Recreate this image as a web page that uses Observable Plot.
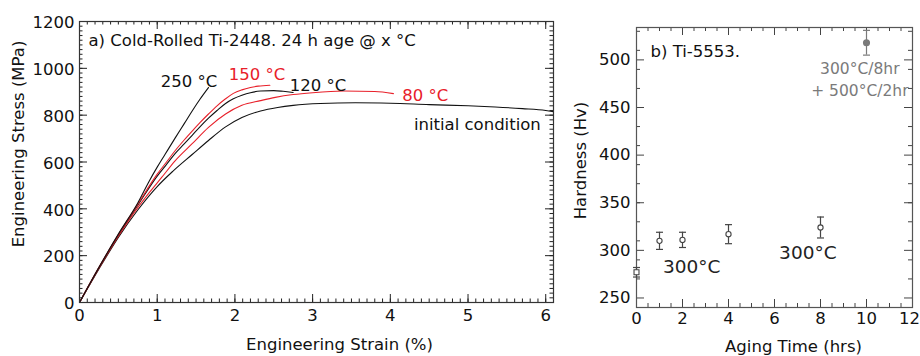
<!DOCTYPE html>
<html><head><meta charset="utf-8">
<script src="https://cdn.jsdelivr.net/npm/d3@7"></script>
<script src="https://cdn.jsdelivr.net/npm/@observablehq/plot@0.6"></script>
<style>
body{margin:0;background:#fff;}
#wrap{position:relative;width:920px;height:356px;overflow:hidden;}
#a,#b{position:absolute;top:0;}
#a{left:0}
#b{left:560px}
</style></head><body><div id="wrap"><div id="a"></div><div id="b"></div></div>
<script>
// ---------- Panel a: tensile curves ----------
const strainInitial = [0,0.25,0.5,0.75,1.0,1.2,1.45,1.66,1.88,2.09,2.33,2.55,2.75,3.1,3.55,4.0,4.5,5.0,5.35,5.7,6.0,6.1];
const stressInitial = [0,143,278,395,495,560,632,692,750,790,818,833,842,850,853,851,845,840,835,828,820,815];
const strain80 = [0,0.25,0.5,0.75,0.9,1.06,1.23,1.45,1.66,1.88,2.09,2.33,2.52,2.75,3.0,3.4,3.8,4.04];
const stress80 = [0,146,283,405,470,535,605,678,748,805,842,862,876,888,896,903,901,892];
const strain120 = [0,0.25,0.5,0.75,1.0,1.12,1.23,1.35,1.45,1.55,1.66,1.77,1.88,1.98,2.09,2.2,2.33,2.5,2.62,2.75];
const stress120 = [0,148,288,415,540,590,636,678,714,750,787,820,850,870,885,896,903,905,902,897];
const strain150 = [0,0.25,0.5,0.75,1.0,1.12,1.23,1.35,1.45,1.55,1.66,1.77,1.88,1.98,2.09,2.2,2.3,2.45];
const stress150 = [0,150,290,420,548,600,648,695,732,768,805,840,870,893,908,918,924,928];
const strain250 = [0,0.25,0.5,0.75,0.9,1.0,1.1,1.23,1.35,1.45,1.55,1.66];
const stress250 = [0,150,292,425,520,578,632,702,765,818,868,918];

const curveNames  = ["initial", "80", "120", "150", "250"];
const curveColors = ["#111", "#e8202a", "#111", "#e8202a", "#111"];
const curveStrains = [strainInitial, strain80, strain120, strain150, strain250];
const curveStresses = [stressInitial, stress80, stress120, stress150, stress250];

const labelTextA   = ["250 °C", "150 °C", "120 °C", "80 °C", "initial condition"];
const labelStrainA = [1.41, 2.285, 3.07, 4.45, 5.12];
const labelStressA = [941, 971, 924, 881, 759];
const labelColorA  = ["#111", "#e8202a", "#111", "#e8202a", "#111"];
const titleA = "a) Cold-Rolled Ti-2448. 24 h age @ x °C";

const xMajorA = [0,1,2,3,4,5,6];
const yMajorA = [0,200,400,600,800,1000,1200];
const xMinorA = d3.range(0, 61).map(i => i / 10);
const yMinorA = d3.range(0, 61).map(i => i * 20);

// ---------- Panel b: hardness ----------
const timeInitial = [0];   const hvInitial = [277]; const errInitial = [5];
const time300 = [1, 2, 4, 8]; const hv300 = [310, 311, 317, 324]; const err300 = [9, 8, 10, 11];
const timeDouble = [10];   const hvDouble = [518];  const errDouble = [13];

const labelTextB  = ["300°C", "300°C"];
const labelTimeB  = [2.4, 7.45];
const labelHvB    = [282, 297.5];
const noteTextB   = ["300°C/8hr", "+ 500°C/2hr"];
const noteTimeB   = [9.71, 9.71];
const noteHvB     = [490, 467.5];
const titleB = "b) Ti-5553.";

const xMajorB = [0,2,4,6,8,10];
const xLastB = [12];
const yMajorB = [250,300,350,400,450,500];
const xMinorB = d3.range(0, 25).map(i => i / 2);
const yMinorB = d3.range(0, 15).map(i => 270 + i * 20).filter(v => v < 534);

const FONT = "'DejaVu Sans', sans-serif";
const FS = 16.5;

const curveData = curveNames.flatMap((n, k) =>
  curveStrains[k].map((s, i) => ({name: n, strain: s, stress: curveStresses[k][i]})));
const labelsA = labelTextA.map((t, i) => ({t, x: labelStrainA[i], y: labelStressA[i], c: labelColorA[i]}));

// inward ticks on all four sides of the frame
function boxTicks(xs, ys, len, innerW, innerH, col) {
  const o = {stroke: col, strokeWidth: 1};
  return [
    Plot.ruleX(xs, {...o, x: d => d, insetTop: innerH - len}),
    Plot.ruleX(xs, {...o, x: d => d, insetBottom: innerH - len}),
    Plot.ruleY(ys, {...o, y: d => d, insetRight: innerW - len}),
    Plot.ruleY(ys, {...o, y: d => d, insetLeft: innerW - len})
  ];
}
const fmt = d => String(d);

const WA = 560, HA = 356, mlA = 79, mrA = 7, mtA = 21, mbA = 54;
const plotA = Plot.plot({
  width: WA, height: HA,
  marginLeft: mlA, marginRight: mrA, marginTop: mtA, marginBottom: mbA,
  style: {fontFamily: FONT, fontSize: FS + "px", color: "#111", background: "white", overflow: "visible"},
  x: {domain: [0, 6.1], label: null},
  y: {domain: [0, 1200], label: null},
  color: {domain: curveNames, range: curveColors},
  marks: [
    Plot.line(curveData, {x: "strain", y: "stress", z: "name", stroke: "name", strokeWidth: 1.1, curve: "monotone-x"}),
    ...boxTicks(xMinorA, yMinorA, 3.5, WA - mlA - mrA, HA - mtA - mbA, "#222"),
    ...boxTicks(xMajorA, yMajorA, 8, WA - mlA - mrA, HA - mtA - mbA, "#222"),
    Plot.frame({stroke: "#333", strokeWidth: 1.2}),
    Plot.axisX({anchor: "bottom", ticks: xMajorA, tickFormat: fmt, tickSize: 0, tickPadding: 7, label: null, fontSize: FS}),
    Plot.axisY({anchor: "left", ticks: yMajorA, tickFormat: fmt, tickSize: 0, tickPadding: 5, dy: 1.5, label: null, fontSize: FS}),
    Plot.text(labelsA, {x: "x", y: "y", text: "t", fill: "c", fontSize: FS, textAnchor: "middle"}),
    Plot.text([titleA], {frameAnchor: "top-left", dx: 9, dy: 19, text: d => d, fontSize: FS, textAnchor: "start", lineAnchor: "middle", fill: "#111"}),
    Plot.text(["Engineering Stress (MPa)"], {frameAnchor: "left", dx: -61, dy: -18, rotate: -90, text: d => d, fontSize: FS, textAnchor: "middle", lineAnchor: "middle", fill: "#111"}),
    Plot.text(["Engineering Strain (%)"], {frameAnchor: "bottom", dx: 23, dy: 42, text: d => d, fontSize: FS, textAnchor: "middle", lineAnchor: "middle", fill: "#111"})
  ]
});
document.getElementById("a").appendChild(plotA);

// ---------- build panel b ----------
const pt = (ts, hs, es) => ts.map((t, i) => ({t, hv: hs[i], lo: hs[i] - es[i], hi: hs[i] + es[i]}));
const dInit = pt(timeInitial, hvInitial, errInitial);
const d300 = pt(time300, hv300, err300);
const dDouble = pt(timeDouble, hvDouble, errDouble);
const cap = {draw(ctx) { ctx.moveTo(-3.5, 0); ctx.lineTo(3.5, 0); }};
const gDark = "#444", gLight = "#7a7a7a";

function errMarks(data, col) {
  return [
    Plot.ruleX(data, {x: "t", y1: "lo", y2: "hi", stroke: col, strokeWidth: 1.2}),
    Plot.dot(data, {x: "t", y: "lo", symbol: cap, r: 3, stroke: col, fill: "none", strokeWidth: 1.2}),
    Plot.dot(data, {x: "t", y: "hi", symbol: cap, r: 3, stroke: col, fill: "none", strokeWidth: 1.2})
  ];
}

const WB = 360, HB = 356, mlB = 76, mrB = 8, mtB = 27, mbB = 49;
const plotB = Plot.plot({
  width: WB, height: HB,
  marginLeft: mlB, marginRight: mrB, marginTop: mtB, marginBottom: mbB,
  style: {fontFamily: FONT, fontSize: FS + "px", color: "#111", background: "white", overflow: "visible"},
  x: {domain: [0, 12], label: null},
  y: {domain: [240, 534], label: null},
  marks: [
    ...boxTicks(xMinorB, yMinorB, 4, WB - mlB - mrB, HB - mtB - mbB, "#444"),
    ...boxTicks([...xMajorB, ...xLastB], yMajorB, 8, WB - mlB - mrB, HB - mtB - mbB, "#444"),
    Plot.frame({stroke: "#555", strokeWidth: 1.2}),
    ...errMarks(dInit, gDark),
    ...errMarks(d300, gDark),
    ...errMarks(dDouble, gLight),
    Plot.dot(dInit, {x: "t", y: "hv", symbol: "square", r: 2.8, stroke: gDark, fill: "white", strokeWidth: 1.1}),
    Plot.dot(d300, {x: "t", y: "hv", r: 2.6, stroke: gDark, fill: "white", strokeWidth: 1.1}),
    Plot.dot(dDouble, {x: "t", y: "hv", r: 2.8, fill: gLight, stroke: gLight}),
    Plot.axisX({anchor: "bottom", ticks: xMajorB, tickFormat: fmt, tickSize: 0, tickPadding: 5, label: null, fontSize: FS}),
    Plot.axisX({anchor: "bottom", ticks: xLastB, tickFormat: fmt, tickSize: 0, tickPadding: 5, dx: -3, label: null, fontSize: FS}),
    Plot.axisY({anchor: "left", ticks: yMajorB, tickFormat: fmt, tickSize: 0, tickPadding: 6, label: null, fontSize: FS}),
    Plot.text(labelTextB.map((t, i) => ({t, x: labelTimeB[i], y: labelHvB[i]})), {x: "x", y: "y", text: "t", fontSize: 18.5, fill: "#222"}),
    Plot.text(noteTextB.map((t, i) => ({t, x: noteTimeB[i], y: noteHvB[i]})), {x: "x", y: "y", text: "t", fontSize: 15.5, fill: gLight}),
    Plot.text([titleB], {frameAnchor: "top-left", dx: 14, dy: 24, text: d => d, fontSize: FS, textAnchor: "start", lineAnchor: "middle", fill: "#111"}),
    Plot.text(["Hardness (Hv)"], {frameAnchor: "left", dx: -56, dy: -7, rotate: -90, text: d => d, fontSize: FS, textAnchor: "middle", lineAnchor: "middle", fill: "#111"}),
    Plot.text(["Aging Time (hrs)"], {frameAnchor: "bottom", dx: 19, dy: 39, text: d => d, fontSize: FS, textAnchor: "middle", lineAnchor: "middle", fill: "#111"})
  ]
});
document.getElementById("b").appendChild(plotB);
</script>
</body></html>
